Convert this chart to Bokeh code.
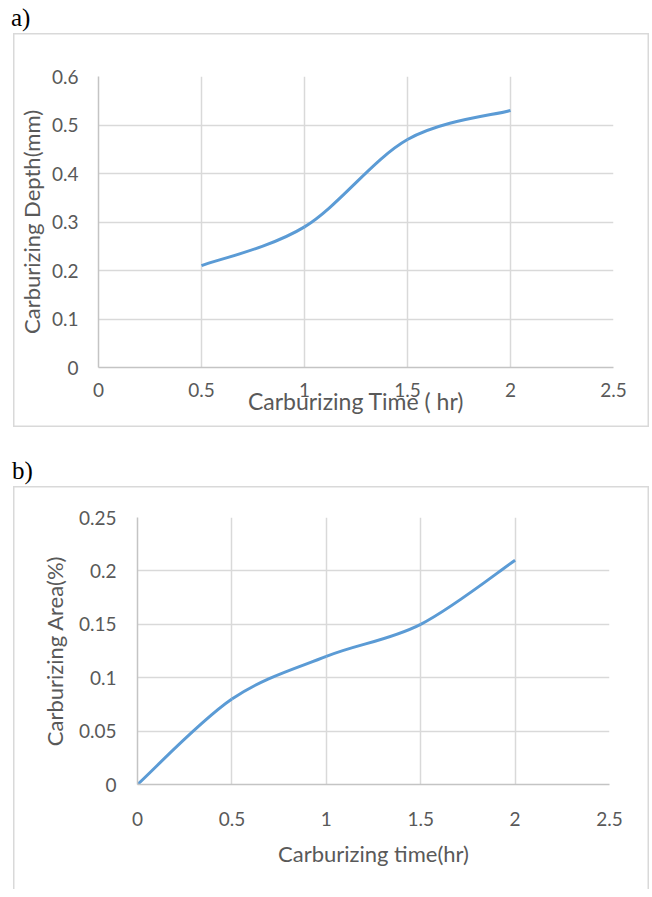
from bokeh.plotting import figure
from bokeh.models import Range1d, FixedTicker, Div
from bokeh.layouts import column
from bokeh.embed import file_html
from bokeh.resources import INLINE

# ---------------- data ----------------
time_a = [0.5, 1.0, 1.5, 2.0]
depth_a = [0.21, 0.29, 0.47, 0.53]

time_b = [0.0, 0.5, 1.0, 1.5, 2.0]
area_b = [0.0, 0.08, 0.12, 0.15, 0.21]

x_ticks = [0, 0.5, 1, 1.5, 2, 2.5]
x_tick_labels = ["0", "0.5", "1", "1.5", "2", "2.5"]
ya_ticks = [0, 0.1, 0.2, 0.3, 0.4, 0.5, 0.6]
ya_tick_labels = ["0", "0.1", "0.2", "0.3", "0.4", "0.5", "0.6"]
yb_ticks = [0, 0.05, 0.1, 0.15, 0.2, 0.25]
yb_tick_labels = ["0", "0.05", "0.1", "0.15", "0.2", "0.25"]

TEXT = "#595959"
GRID = "#D9D9D9"
AXIS = "#C4C4C4"
LINE = "#5B9BD5"
FONT = "Lato"
W = 636


def smooth(xs, ys):
    """Catmull-Rom (Excel-style) bezier control points from the data."""
    n = len(xs)
    out = {k: [] for k in ("x0", "y0", "x1", "y1", "cx0", "cy0", "cx1", "cy1")}
    for i in range(n - 1):
        im = max(i - 1, 0)
        ip = min(i + 2, n - 1)
        out["x0"].append(xs[i]); out["y0"].append(ys[i])
        out["x1"].append(xs[i + 1]); out["y1"].append(ys[i + 1])
        out["cx0"].append(xs[i] + (xs[i + 1] - xs[im]) / 6)
        out["cy0"].append(ys[i] + (ys[i + 1] - ys[im]) / 6)
        out["cx1"].append(xs[i + 1] - (xs[ip] - xs[i]) / 6)
        out["cy1"].append(ys[i + 1] - (ys[ip] - ys[i]) / 6)
    return out


def make_fig(height, left, right, top, bottom, ymax, yticks, ylabels,
             xtitle, ytitle, xstd, xlstd, ystd, ylstd, shadow, xtsize):
    p = figure(width=W, height=height, x_range=Range1d(0, 2.5),
               y_range=Range1d(0, ymax), output_backend="svg",
               toolbar_location=None, min_border_left=left,
               min_border_right=right, min_border_top=top,
               min_border_bottom=bottom, margin=(0, 0, 0, 13),
               styles={"box-shadow": shadow})
    p.outline_line_color = None
    p.background_fill_color = "white"
    p.border_fill_alpha = 0
    for ax, ticks, labels in ((p.xaxis, x_ticks, x_tick_labels),
                              (p.yaxis, yticks, ylabels)):
        ax.ticker = FixedTicker(ticks=ticks)
        ax.major_label_overrides = dict(zip(ticks, labels))
        ax.major_tick_line_color = None
        ax.minor_tick_line_color = None
        ax.axis_line_color = AXIS
        ax.axis_line_width = 1.5
        ax.major_label_text_font = FONT
        ax.major_label_text_font_size = "19px"
        ax.major_label_text_color = TEXT
        ax.axis_label_text_font = FONT
        ax.axis_label_text_font_size = "22px"
        ax.axis_label_text_color = TEXT
        ax.axis_label_text_font_style = "normal"
    p.xaxis.axis_label_text_font_size = xtsize
    p.xaxis.axis_label = xtitle
    p.yaxis.axis_label = ytitle
    p.xaxis.major_label_standoff = xstd
    p.xaxis.axis_label_standoff = xlstd
    p.yaxis.major_label_standoff = ystd
    p.yaxis.axis_label_standoff = ylstd
    p.xgrid.grid_line_color = GRID
    p.ygrid.grid_line_color = GRID
    p.xgrid.grid_line_width = 1.5
    p.ygrid.grid_line_width = 1.5
    return p


def tag(text, height, top, left):
    html = ('<div style="position:relative;left:%dpx;top:%dpx;'
            "font-family:'Liberation Serif';font-size:25px;line-height:25px;"
            'color:black;white-space:nowrap;">%s</div>' % (left, top, text))
    return Div(text=html, width=W + 13, height=height, margin=(0, 0, 0, 0))


# ---------------- chart a ----------------
pa = make_fig(394, 85, 36, 43, 60, 0.6, ya_ticks, ya_tick_labels,
              "Carburizing Time ( hr)", "Carburizing Depth(mm)",
              9, -13, 14, 4, "inset 0 0 0 1.5px %s" % GRID, "23px")
pa.bezier(line_color=LINE, line_width=3, **smooth(time_a, depth_a))

# ---------------- chart b ----------------
pb = make_fig(403, 124, 40, 31, 105, 0.25, yb_ticks, yb_tick_labels,
              "Carburizing time(hr)", "Carburizing Area(%)",
              21, 11, 15, 8,
              "inset 1.5px 0 0 0 %s, inset -1.5px 0 0 0 %s, inset 0 1.5px 0 0 %s"
              % (GRID, GRID, GRID), "22px")
pb.bezier(line_color=LINE, line_width=3, **smooth(time_b, area_b))

root_a = column(tag("a)", 33, 5, 11), pa, spacing=0)
root_b = column(tag("b)", 59, 31, 12), pb, spacing=0)

open("out.html", "w").write(file_html([root_a, root_b], INLINE))
